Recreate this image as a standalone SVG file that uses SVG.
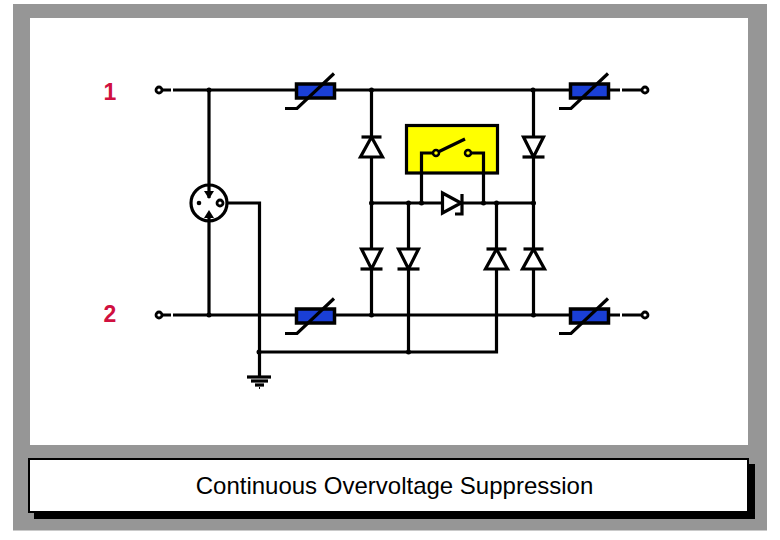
<svg xmlns="http://www.w3.org/2000/svg" width="780" height="540" viewBox="0 0 780 540">
<style>
.w{fill:none;stroke:#000;stroke-width:3.200}
.d{fill:#fff;stroke:#000;stroke-width:3.200;stroke-linejoin:miter}
.j{fill:#000}
.v{fill:#1a3fd6;stroke:#000;stroke-width:3.500}
.o{fill:#fff;stroke:#000;stroke-width:2.800}
.n{font:bold 23px "Liberation Sans",Arial,sans-serif;fill:#d01040;text-anchor:middle}
.c{font:24px "Liberation Sans",Arial,sans-serif;fill:#000;text-anchor:middle}
</style>
<defs>
<g id="var"><rect class="v" x="-18.500" y="-6.500" width="38" height="14"/><path class="w" d="M-30 18H-18L19 -17"/></g>
<g id="dd"><path class="w" d="M0 -10V10"/><path class="d" d="M-10 -10H10L0 10Z"/><path class="w" d="M-11 10H11"/></g>
<g id="du"><path class="w" d="M0 -10V10"/><path class="d" d="M-11 10H11L0 -10Z"/><path class="w" d="M-10 -10H10"/></g>
</defs>
<g id="frame">
<rect x="13" y="4" width="754" height="526.500" fill="#969696"/>
<rect x="30" y="18" width="718" height="427" fill="#fff"/>
</g>
<g id="connectors">
<path class="w" d="M162 90H171M173 90H296M335 90H570M609 90H620M622 90H642"/>
<path class="w" d="M162 315H171M173 315H296M335 315H570M609 315H620M622 315H642"/>
<path class="w" d="M209 90V185M209 221V315"/>
<path class="w" d="M226 203H259.500V377"/>
<path class="w" d="M371.500 90V315M533.500 90V315"/>
<path class="w" d="M371.500 203H533.500"/>
<path class="w" d="M408.500 203V352M496.500 203V352H259"/>
<path class="w" d="M436 153H421.500V203M468 153H483.500V203"/>
<g class="j">
<circle cx="209" cy="90" r="2.500"/><circle cx="371.500" cy="90" r="2.500"/><circle cx="533" cy="90" r="2.500"/>
<circle cx="371.500" cy="203" r="2.500"/><circle cx="408.500" cy="203" r="2.500"/><circle cx="421.500" cy="203" r="2.500"/><circle cx="483.500" cy="203" r="2.500"/><circle cx="496.500" cy="203" r="2.500"/><circle cx="533.500" cy="203" r="2.500"/>
<circle cx="209" cy="315" r="2.500"/><circle cx="371.500" cy="315" r="2.500"/><circle cx="533.500" cy="315" r="2.500"/>
<circle cx="259" cy="352" r="2.500"/><circle cx="408.500" cy="352" r="2.500"/>
</g>
</g>
<g id="terminal-1a"><circle class="o" cx="159" cy="90" r="3"/></g>
<g id="terminal-1b"><circle class="o" cx="645" cy="90" r="3"/></g>
<g id="terminal-2a"><circle class="o" cx="159" cy="315" r="3"/></g>
<g id="terminal-2b"><circle class="o" cx="645" cy="315" r="3"/></g>
<g id="varistor-1"><use href="#var" x="315" y="90.500"/></g>
<g id="varistor-2"><use href="#var" x="589" y="90.500"/></g>
<g id="varistor-3"><use href="#var" x="315" y="315.500"/></g>
<g id="varistor-4"><use href="#var" x="589" y="315.500"/></g>
<g id="gas-tube">
<circle cx="209" cy="203" r="18" fill="#fff" stroke="#000" stroke-width="3.200"/>
<path d="M209 185V198" stroke="#000" stroke-width="3.200"/>
<path class="j" d="M204 191H214L209 199Z"/>
<path class="j" d="M204 218H214L209 210Z"/>
<path d="M209 216V222" stroke="#000" stroke-width="3.200"/>
<circle class="j" cx="199" cy="203" r="2.300"/>
<circle cx="220" cy="203" r="3" fill="#fff" stroke="#000" stroke-width="2.800"/>
</g>
<g id="diode-1"><use href="#du" x="371.500" y="147"/></g>
<g id="diode-2"><use href="#dd" x="533.500" y="147"/></g>
<g id="diode-3"><use href="#dd" x="371.500" y="259"/></g>
<g id="diode-4"><use href="#dd" x="408.500" y="259"/></g>
<g id="diode-5"><use href="#du" x="496.500" y="259"/></g>
<g id="diode-6"><use href="#du" x="533.500" y="259"/></g>
<g id="switch-box">
<rect x="406.500" y="125.500" width="91" height="47.500" fill="#ffff00" stroke="#000" stroke-width="3.200"/>
<path class="w" d="M436 153H421.500V173M468 153H483.500V173"/>
<path class="w" d="M436 153L465 139"/>
<circle cx="436" cy="153" r="3" fill="#ffff00" stroke="#000" stroke-width="2.500"/>
<circle cx="468" cy="153" r="3" fill="#ffff00" stroke="#000" stroke-width="2.500"/>
</g>
<g id="diode-h">
<path class="d" d="M442.500 193V213L461 203Z"/>
<path class="w" d="M462 194V214H455"/>
</g>
<g id="ground">
<path class="w" d="M247 377H271"/>
<path class="w" d="M251 381H268"/>
<path class="w" d="M255 385H264"/>
<path d="M259.500 387V389" stroke="#000" stroke-width="1"/>
</g>
<g id="label-1"><text class="n" x="110" y="100">1</text></g>
<g id="label-2"><text class="n" x="110" y="322">2</text></g>
<g id="caption">
<rect x="34" y="464" width="721" height="55" fill="#000"/>
<rect x="29" y="459" width="719" height="53" fill="#fff" stroke="#000" stroke-width="2"/>
<text class="c" x="394.500" y="494">Continuous Overvoltage Suppression</text>
</g>
</svg>
